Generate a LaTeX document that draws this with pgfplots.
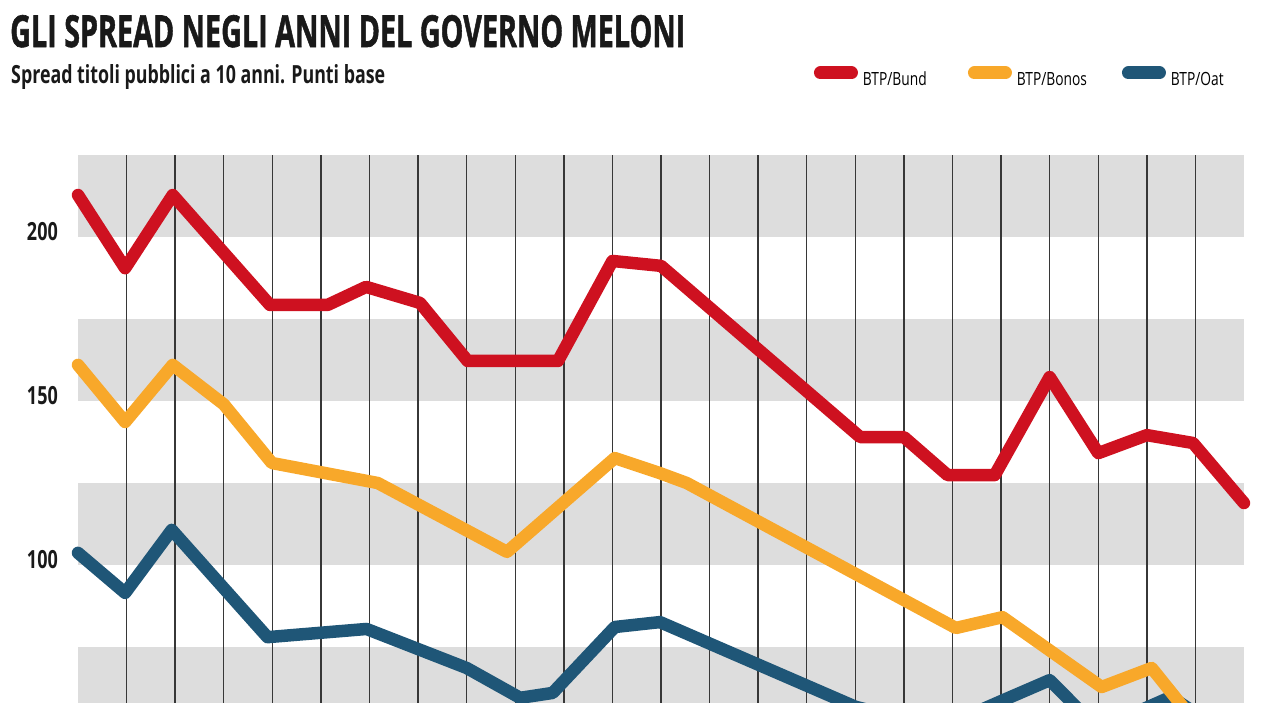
\documentclass[border=0pt]{standalone}
\usepackage{fontspec}
\setmainfont{Open Sans}
\newfontfamily\titlefont[BoldFeatures={FakeBold=1.5}]{Open Sans}
\usepackage{graphicx}
\usepackage{pgfplots}
\pgfplotsset{compat=1.18}
\definecolor{cred}{RGB}{206,17,32}
\definecolor{corange}{RGB}{248,168,42}
\definecolor{cblue}{RGB}{31,86,119}
\definecolor{band}{RGB}{221,221,221}
\definecolor{gridc}{RGB}{55,55,55}
\newcommand\legtxt[1]{\makebox[105pt][l]{\smash{\scalebox{0.757}[1]{\fontsize{18.2}{20}\selectfont #1}}}\rule{0pt}{13pt}}
\newcommand\yl[1]{\scalebox{0.72}[1]{\fontsize{25}{28}\selectfont\bfseries #1}}
\begin{document}
\begin{tikzpicture}[x=1pt,y=1pt]
\node[anchor=base west, inner sep=0pt, text=black!90] at (10,-47) {\resizebox{675pt}{32pt}{\titlefont\bfseries GLI SPREAD NEGLI ANNI DEL GOVERNO MELONI}};
\node[anchor=base west, inner sep=0pt, text=black!90] at (11,-83) {\resizebox{374pt}{19pt}{\bfseries\fontsize{24}{28}\selectfont Spread titoli pubblici a 10 anni. Punti base}};
\begin{axis}[
  at={(78pt,-155pt)}, anchor=north west,
  scale only axis, width=1166pt, height=574pt,
  xmin=0, xmax=24, ymin=50, ymax=225,
  clip=false, set layers,
  axis line style={draw=none}, tick style={draw=none},
  xtick={1,...,23}, xticklabels={}, xmajorgrids, grid style={gridc, line width=1.4pt},
  ytick={100,150,200}, yticklabels={\yl{100},\yl{150},\yl{200}},
  yticklabel style={anchor=east, inner sep=0pt, xshift=-20pt, yshift=5pt, text=black!90},
  legend columns=3, reverse legend,
  legend style={at={(0.6312,1.1368)}, anchor=west, draw=none, fill=none, inner sep=0pt, outer sep=0pt, row sep=0pt, column sep=0pt, nodes={inner sep=0pt, outer sep=0pt}, /tikz/every odd column/.append style={column sep=5pt}},
  legend image code/.code={\draw[#1, line width=13pt, line cap=round] (6.5pt,6.5pt) -- (37.5pt,6.5pt);},
  every axis plot/.append style={line width=12.5pt, line join=round, line cap=round},
]
\addplot[on layer=axis background, fill=band, draw=none, forget plot] coordinates {(0,200) (24,200) (24,225) (0,225)} -- cycle;
\addplot[on layer=axis background, fill=band, draw=none, forget plot] coordinates {(0,150) (24,150) (24,175) (0,175)} -- cycle;
\addplot[on layer=axis background, fill=band, draw=none, forget plot] coordinates {(0,100) (24,100) (24,125) (0,125)} -- cycle;
\addplot[on layer=axis background, fill=band, draw=none, forget plot] coordinates {(0,50) (24,50) (24,75) (0,75)} -- cycle;
\addplot[cblue] coordinates {(0,103.7) (0.97,91.5) (1.93,110.7) (3.9,78.0) (5.94,80.5) (8.0,68.6) (9.1,59.5) (9.77,61.0) (11.05,81.1) (11.98,82.6) (16,56.8) (17,53) (18,52) (19,58.5) (20,64.9) (21,50) (22.5,59.8) (24,45)};
\addlegendentry{\legtxt{BTP/Oat}}
\addplot[corange] coordinates {(0,161.0) (0.97,143.6) (1.95,161.0) (3,149.0) (3.99,131.1) (6.17,125.0) (8.83,104.0) (11.05,132.6) (11.98,128.0) (12.53,125.0) (18.07,80.8) (19.03,84.1) (21.07,62.8) (22.1,68.6) (23,52) (24,48)};
\addlegendentry{\legtxt{BTP/Bonos}}
\addplot[cred] coordinates {(0,212.8) (0.97,190.5) (1.95,212.8) (3.95,179.3) (5.14,179.3) (5.93,184.8) (7.04,179.9) (8.02,162.2) (9.88,162.2) (11,192.7) (12,191.2) (16.1,139.0) (17,139.0) (17.9,127.4) (18.87,127.4) (20,157.3) (21,134.1) (22,139.6) (22.95,137.2) (24,118.9)};
\addlegendentry{\legtxt{BTP/Bund}}
\end{axis}
\pgfresetboundingbox
\path[use as bounding box] (0,0) rectangle (1280,-702);
\end{tikzpicture}
\end{document}
